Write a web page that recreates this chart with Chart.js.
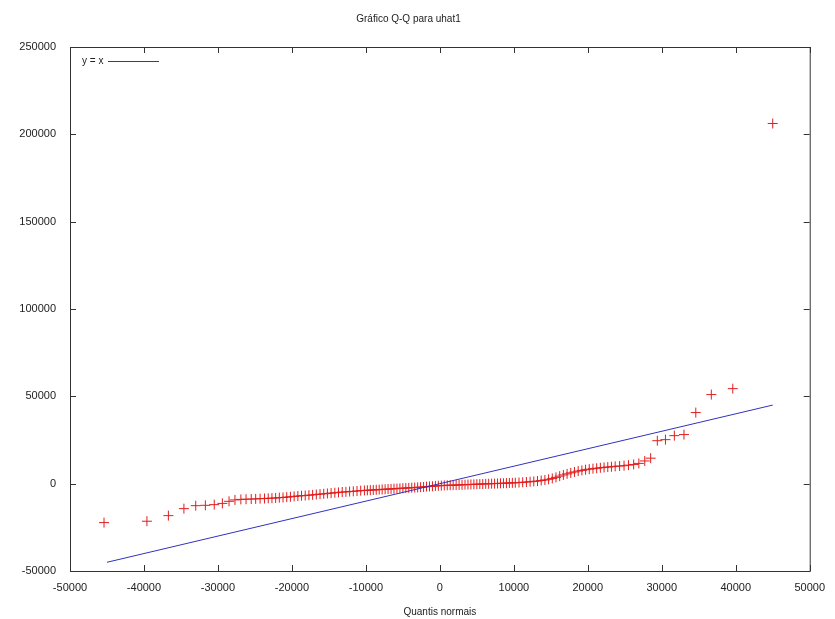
<!DOCTYPE html>
<html>
<head>
<meta charset="utf-8">
<script src="https://cdn.jsdelivr.net/npm/chart.js@4"></script>
<style>
  html, body { margin: 0; padding: 0; background: #fff; }
  #wrap { width: 835px; height: 619px; }
</style>
</head>
<body>
<div id="wrap"><canvas id="qqChart" width="835" height="619"></canvas></div>
<script>
// normal quantiles (x) and sorted residuals uhat1 (y)
const normalQuantiles = [
  -45400, -39600, -36700, -34600, -33000, -31700, -30500, -29400, -28500, -27700, -26900, -26200,
  -25500, -24900, -24300, -23700, -23200, -22700, -22200, -21700, -21200, -20700, -20200,
  -19700, -19200, -18700, -18200, -17700, -17200, -16700, -16200, -15700, -15200,
  -14700, -14200, -13700, -13200, -12700, -12200, -11700, -11200, -10700, -10200,
  -9800, -9400, -9000, -8600, -8200, -7800, -7400, -7000, -6600, -6200, -5800, -5400, -5000,
  -4600, -4200, -3800, -3400, -3000, -2600, -2200, -1800, -1400, -1000, -600, -200,
  200, 600, 1000, 1400, 1800, 2200, 2600, 3000, 3400, 3800, 4200, 4600, 5000,
  5400, 5800, 6200, 6600, 7000, 7400, 7800, 8200, 8600, 9000, 9400, 9800,
  10200, 10700, 11200, 11700, 12200, 12700, 13200, 13700, 14200, 14700,
  15200, 15700, 16200, 16700, 17200, 17700, 18200, 18700, 19200, 19700,
  20200, 20700, 21200, 21700, 22200, 22700, 23200, 23700, 24300, 24900, 25500,
  26200, 26900, 27700, 28500, 29400, 30500, 31700, 33000, 34600, 36700, 39600, 45000
];
const residuals = [
  -22300, -21500, -18300, -14300, -12600, -12400, -12000, -11300, -10100, -9300, -9000, -8900,
  -8800, -8700, -8600, -8500, -8400, -8300, -8200, -8000, -7900, -7700, -7500,
  -7300, -7100, -6900, -6800, -6600, -6400, -6200, -6000, -5800, -5600,
  -5400, -5200, -5000, -4800, -4700, -4500, -4400, -4200, -4000, -3900,
  -3800, -3700, -3600, -3500, -3400, -3300, -3200, -3100, -3000, -2900, -2800, -2700, -2600,
  -2500, -2400, -2300, -2200, -2100, -2000, -1900, -1700, -1600, -1500, -1300, -1200,
  -1100, -1000, -950, -900, -850, -800, -700, -650, -600, -500, -450, -400, -300,
  -250, -200, -100, -50, 0, 50, 100, 200, 250, 300, 400, 450,
  550, 650, 800, 950, 1100, 1300, 1500, 1800, 2100, 2500,
  3000, 3600, 4300, 5000, 5600, 6200, 6700, 7200, 7600, 8000,
  8300, 8600, 8800, 9100, 9300, 9500, 9700, 9900, 10100, 10300, 10600,
  11000, 11600, 13000, 14600, 24600, 25200, 27500, 28100, 40700, 51000, 54400, 206200
];
// reference line y = x, drawn between the extreme quantiles
const lineEnds = [-45000, 45000];

const xTicks = { min: -50000, max: 50000, step: 10000 };
const yTicks = { min: -50000, max: 250000, step: 50000 };

const qqPoints = normalQuantiles.map((q, i) => ({ x: q, y: residuals[i] }));
const linePoints = lineEnds.map(v => ({ x: v, y: v }));

const textFont = 'Liberation Sans, Arial, sans-serif';

// gnuplot style frame: full border with inward ticks on all four sides, legend inside
const framePlugin = {
  id: 'frame',
  afterDraw(chart) {
    const ctx = chart.ctx;
    const a = chart.chartArea;
    const xs = chart.scales.x, ys = chart.scales.y;
    ctx.save();
    ctx.strokeStyle = '#333';
    ctx.lineWidth = 1;
    ctx.strokeRect(a.left + 0.5, a.top + 0.5, a.right - a.left, a.bottom - a.top);
    ctx.beginPath();
    xs.ticks.forEach(t => {
      const px = Math.round(xs.getPixelForValue(t.value)) + 0.5;
      ctx.moveTo(px, a.bottom); ctx.lineTo(px, a.bottom - 6);
      ctx.moveTo(px, a.top); ctx.lineTo(px, a.top + 6);
    });
    ys.ticks.forEach(t => {
      const py = Math.round(ys.getPixelForValue(t.value)) + 0.5;
      ctx.moveTo(a.left, py); ctx.lineTo(a.left + 6, py);
      ctx.moveTo(a.right, py); ctx.lineTo(a.right - 6, py);
    });
    ctx.stroke();

    // legend "y = x"
    ctx.font = '10px ' + textFont;
    ctx.fillStyle = '#222';
    ctx.textBaseline = 'middle';
    ctx.fillText('y = x', a.left + 12, a.top + 14);
    ctx.strokeStyle = 'rgb(50,50,190)';
    ctx.beginPath();
    ctx.moveTo(a.left + 38, a.top + 14.5);
    ctx.lineTo(a.left + 89, a.top + 14.5);
    ctx.stroke();
    ctx.restore();
  }
};

new Chart(document.getElementById('qqChart').getContext('2d'), {
  type: 'scatter',
  data: {
    datasets: [{
      label: 'uhat1',
      data: qqPoints,
      pointStyle: 'cross',
      pointRadius: 5,
      pointBorderWidth: 1,
      borderColor: 'rgb(225,30,30)',
      backgroundColor: 'rgb(225,30,30)',
      order: 2
    }, {
      label: 'y = x',
      type: 'line',
      data: linePoints,
      borderColor: 'rgb(50,50,190)',
      borderWidth: 1,
      pointRadius: 0,
      fill: false,
      order: 1
    }]
  },
  options: {
    responsive: false,
    animation: false,
    layout: { padding: { left: 0, right: 18, top: 0, bottom: 0 } },
    plugins: {
      legend: { display: false },
      tooltip: { enabled: false },
      title: {
        display: true,
        text: 'Gráfico Q-Q para uhat1',
        color: '#222',
        font: { family: textFont, size: 10, weight: 'normal' },
        padding: { top: 13, bottom: 22 }
      }
    },
    scales: {
      x: {
        type: 'linear',
        min: xTicks.min,
        max: xTicks.max,
        grid: { display: false, drawTicks: false },
        border: { display: false },
        ticks: {
          stepSize: xTicks.step,
          padding: 10,
          color: '#222',
          maxRotation: 0,
          font: { family: textFont, size: 11 },
          callback: v => String(v)
        },
        title: {
          display: true,
          text: 'Quantis normais',
          color: '#222',
          font: { family: textFont, size: 10 },
          padding: { top: 4, bottom: 1 }
        },
        afterFit(scale) { scale.height = 48; }
      },
      y: {
        type: 'linear',
        min: yTicks.min,
        max: yTicks.max,
        grid: { display: false, drawTicks: false },
        border: { display: false },
        ticks: {
          stepSize: yTicks.step,
          padding: 14,
          color: '#222',
          font: { family: textFont, size: 11 },
          callback: v => String(v)
        },
        afterFit(scale) { scale.width = 70; }
      }
    }
  },
  plugins: [framePlugin]
});
</script>
</body>
</html>
